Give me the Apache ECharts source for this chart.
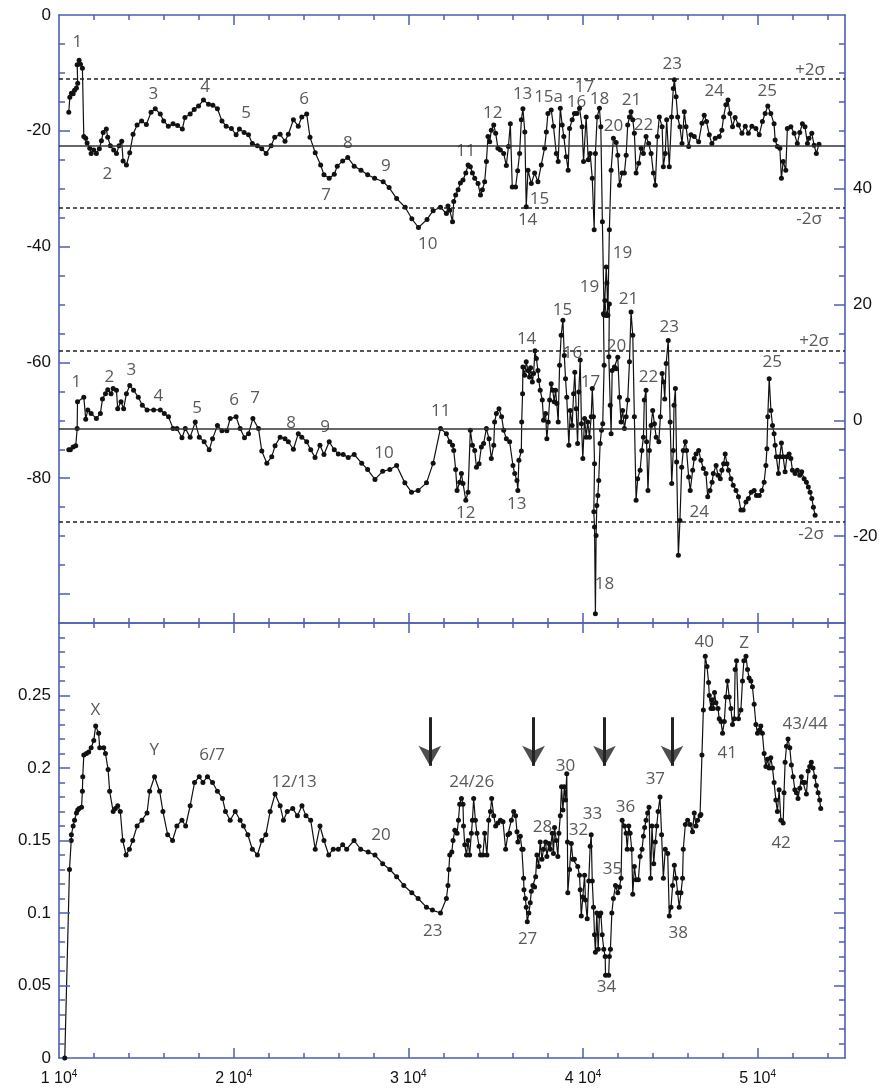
<!DOCTYPE html>
<html>
<head>
<meta charset="utf-8">
<script src="https://cdn.jsdelivr.net/npm/echarts@6.0.0/dist/echarts.min.js"></script>
<style>
  html, body { margin: 0; padding: 0; background: #fff; }
  #chart { width: 883px; height: 1088px; }
</style>
</head>
<body>
<div id="chart"></div>
<script>
// ---- data ----
// upper record (left axis)
const upperSeries = [
  [10560,-16.8],[10620,-14.2],[10710,-13.5],[10810,-13.6],[10890,-13.0],[11000,-12.6],[11070,-11.8],[11040,-8.6],[11150,-7.8],[11230,-8.5],
  [11340,-9.2],[11420,-21.0],[11530,-21.3],[11610,-22.1],[11760,-23.0],[11840,-23.9],[11990,-23.3],[12140,-23.9],[12310,-23.1],[12430,-21.7],
  [12530,-20.3],[12710,-19.7],[12790,-21.1],[12940,-22.6],[13130,-23.3],[13290,-23.9],[13440,-22.6],[13590,-21.8],[13670,-25.2],[13860,-25.9],
  [14050,-23.8],[14240,-20.6],[14470,-19.0],[14730,-18.3],[15000,-18.9],[15270,-16.8],[15510,-16.2],[15800,-17.1],[15990,-18.3],[16260,-19.2],
  [16530,-18.8],[16790,-19.1],[17060,-19.7],[17210,-17.7],[17510,-17.1],[17740,-16.3],[17990,-15.7],[18270,-14.7],[18560,-15.4],[18810,-15.6],
  [19070,-16.2],[19330,-18.3],[19570,-19.2],[19870,-19.6],[20140,-20.7],[20330,-19.7],[20600,-20.3],[20850,-20.7],[21070,-22.2],[21360,-22.6],
  [21610,-23.1],[21860,-23.9],[22140,-22.6],[22350,-21.1],[22660,-20.6],[22940,-21.8],[23130,-20.6],[23420,-18.1],[23700,-19.2],[23900,-17.6],
  [24180,-17.1],[24370,-21.1],[24670,-23.8],[24980,-25.9],[25170,-27.6],[25470,-28.2],[25760,-27.5],[25930,-26.1],[26240,-25.2],[26530,-24.6],
  [26900,-26.1],[27290,-26.8],[27670,-27.6],[28070,-28.2],[28560,-28.8],[28900,-29.8],[29330,-31.7],[29820,-33.2],[30200,-35.2],[30580,-36.7],
  [31070,-35.3],[31420,-33.8],[31840,-33.2],[32180,-34.3],[32270,-33.0],[32370,-33.7],[32530,-35.7],[32600,-32.2],[32710,-31.1],[32850,-30.2],
  [32980,-29.0],[33130,-28.5],[33290,-27.3],[33420,-25.9],[33550,-26.2],[33670,-27.3],[33800,-28.2],[33990,-29.1],[34130,-31.1],[34240,-30.2],
  [34370,-28.8],[34470,-25.3],[34560,-21.0],[34660,-21.9],[34750,-19.9],[34890,-19.0],[35000,-20.4],[35130,-23.0],[35270,-23.3],[35460,-23.9],
  [35610,-26.0],[35730,-22.7],[35840,-18.8],[35950,-29.7],[36140,-29.7],[36260,-26.9],[36370,-23.9],[36470,-18.1],[36560,-16.2],[36670,-20.2],
  [36750,-33.1],[36850,-26.8],[37040,-29.1],[37230,-27.3],[37420,-28.8],[37610,-25.9],[37800,-23.0],[37900,-20.2],[37990,-17.0],[38180,-16.4],
  [38310,-19.2],[38470,-23.9],[38580,-25.3],[38700,-16.1],[38810,-19.0],[38900,-21.0],[39040,-24.5],[39150,-26.8],[39230,-19.6],[39380,-18.1],
  [39510,-17.0],[39650,-17.0],[39800,-16.1],[39950,-19.3],[40030,-25.3],[40180,-17.6],[40300,-25.0],[40410,-23.9],[40530,-28.2],[40640,-37.1],
  [40710,-23.9],[40810,-17.6],[40940,-16.1],[41020,-19.3],[41110,-35.7],[41210,-51.8],[41330,-43.5],[41370,-46.3],[41420,-51.8],[41510,-37.1],
  [41610,-26.8],[41740,-21.3],[41900,-22.0],[41990,-24.2],[42090,-29.4],[42240,-27.3],[42370,-27.3],[42470,-24.2],[42560,-19.0],[42660,-17.6],
  [42750,-16.7],[42850,-18.1],[42940,-20.4],[43040,-27.3],[43190,-25.6],[43330,-23.0],[43460,-23.9],[43610,-21.0],[43760,-22.2],[43900,-23.9],
  [44030,-27.3],[44140,-29.4],[44260,-21.0],[44370,-17.6],[44530,-19.3],[44600,-26.2],[44710,-23.9],[44790,-18.1],[44940,-26.2],[45070,-17.6],
  [45170,-12.7],[45230,-11.2],[45330,-14.1],[45420,-17.6],[45550,-19.3],[45670,-22.2],[45800,-16.7],[45900,-19.3],[46050,-22.7],[46180,-20.7],
  [46370,-21.0],[46620,-21.9],[46810,-18.7],[46940,-17.3],[47070,-18.4],[47230,-20.7],[47380,-22.2],[47570,-21.3],[47800,-21.0],[47950,-19.9],
  [48050,-17.6],[48180,-15.5],[48300,-14.7],[48410,-17.0],[48560,-19.3],[48710,-17.7],[48900,-19.0],[49100,-20.4],[49290,-19.2],[49470,-20.4],
  [49670,-19.2],[49900,-19.6],[50090,-20.7],[50270,-18.4],[50430,-17.0],[50580,-15.7],[50750,-17.0],[50940,-18.8],[51000,-21.6],[51130,-22.7],
  [51270,-23.0],[51360,-28.2],[51460,-25.3],[51610,-26.8],[51700,-19.6],[51900,-19.3],[52090,-20.4],[52270,-22.2],[52410,-20.3],[52560,-18.8],
  [52710,-19.3],[52850,-22.2],[52940,-21.3],[53100,-20.4],[53230,-22.5],[53360,-23.9],[53510,-22.3]
];
// middle record (right axis)
const middleSeries = [
  [10560,-5.1],[10650,-5.1],[10810,-4.6],[10960,-4.4],[11040,-1.4],[11060,3.2],[11420,4.0],[11530,0.2],[11650,1.8],[11840,1.2],
  [12140,0.3],[12370,1.2],[12490,3.7],[12660,4.6],[12790,5.3],[12980,4.6],[13100,5.5],[13290,5.2],[13360,2.0],[13550,3.2],
  [13700,2.0],[13860,4.6],[14050,6.0],[14270,5.2],[14540,4.0],[14770,2.6],[15040,1.8],[15420,1.8],[15800,1.8],[16030,1.2],
  [16270,0.6],[16530,-1.4],[16750,-1.4],[17040,-3.0],[17230,-1.4],[17510,-2.9],[17800,-0.3],[18030,-2.9],[18310,-3.7],[18600,-5.1],
  [18790,-3.2],[19070,-0.9],[19330,-1.8],[19610,-1.8],[19800,0.3],[20140,0.6],[20370,-1.4],[20620,-3.0],[20850,-2.3],[21100,0.3],
  [21420,-1.4],[21610,-5.3],[21900,-7.4],[22180,-6.3],[22370,-4.4],[22660,-2.9],[22940,-3.2],[23130,-3.7],[23420,-5.0],[23700,-2.3],
  [23900,-2.9],[24180,-3.7],[24410,-5.1],[24660,-6.4],[24940,-4.3],[25170,-5.9],[25470,-3.7],[25760,-5.1],[25990,-5.8],[26270,-5.9],
  [26560,-6.4],[26900,-5.9],[27330,-7.4],[27670,-8.5],[28090,-10.2],[28530,-8.8],[28940,-8.5],[29330,-7.8],[29800,-10.8],[30180,-12.4],
  [30560,-12.1],[31040,-10.8],[31420,-7.4],[31840,-1.4],[32180,-2.3],[32370,-3.7],[32530,-4.3],[32600,-5.2],[32710,-8.5],[32790,-12.1],
  [32940,-10.7],[33040,-9.2],[33130,-10.9],[33290,-13.8],[33420,-12.4],[33550,-1.7],[33670,-4.3],[33800,-5.2],[33900,-8.1],[34050,-7.5],
  [34180,-4.6],[34310,-4.0],[34470,-1.4],[34620,-3.2],[34750,-6.6],[34890,-4.3],[34940,-0.3],[35040,1.2],[35190,2.0],[35340,0.6],
  [35460,-1.7],[35610,-3.2],[35800,-3.7],[35990,-7.8],[36090,-9.2],[36220,-10.4],[36270,-12.1],[36330,-6.9],[36470,-5.3],[36490,-0.3],
  [36540,4.6],[36560,9.2],[36660,7.8],[36750,10.1],[36850,8.6],[36940,7.5],[37000,9.1],[37100,6.6],[37170,8.1],[37250,12.0],
  [37330,10.7],[37420,8.6],[37470,6.9],[37550,5.2],[37670,3.5],[37740,0.0],[37860,1.2],[37930,-3.2],[38010,-0.3],[38090,3.5],
  [38180,6.3],[38270,5.2],[38350,3.2],[38430,5.2],[38500,2.9],[38580,-0.3],[38660,9.5],[38750,14.7],[38850,17.3],[38930,11.2],
  [39000,7.2],[39070,4.0],[39190,-4.3],[39270,1.7],[39380,-0.9],[39460,4.6],[39530,8.3],[39610,2.0],[39690,-4.0],[39760,4.9],
  [39840,10.4],[39910,-0.6],[39990,-6.6],[40090,0.3],[40180,-2.9],[40270,-0.3],[40370,-2.9],[40470,0.6],[40530,5.5],[40600,0.6],
  [40660,-7.5],[40620,-15.8],[40660,-18.4],[40710,-33.4],[40750,-19.9],[40790,-14.7],[40850,-13.0],[40900,-10.4],[40980,-4.0],[41060,-1.7],
  [41130,-0.6],[41210,9.5],[41170,18.4],[41250,20.7],[41330,18.1],[41420,18.1],[41510,20.1],[41480,11.0],[41560,2.6],[41610,-2.3],
  [41670,8.6],[41800,9.2],[41900,8.9],[41990,10.9],[42090,4.0],[42180,-0.3],[42270,1.7],[42370,-1.4],[42470,0.6],[42560,3.5],
  [42660,10.1],[42750,18.7],[42850,14.7],[42940,0.6],[43040,-13.8],[43130,-10.1],[43270,-8.6],[43370,-5.2],[43460,-2.9],[43510,3.5],
  [43610,5.2],[43640,-3.7],[43720,-12.1],[43800,-5.2],[43900,-0.9],[43990,1.7],[44090,-0.6],[44190,-2.9],[44340,-3.7],[44430,0.6],
  [44530,8.1],[44620,6.6],[44680,3.7],[44760,9.8],[44880,13.8],[44990,-0.3],[45080,-10.9],[45170,-5.2],[45210,2.6],[45290,5.5],
  [45360,-7.2],[45460,-23.3],[45550,-17.3],[45650,-8.1],[45740,-5.2],[45860,-3.7],[45930,-5.2],[46050,-9.8],[46140,-12.1],[46280,-8.6],
  [46370,-6.6],[46470,-5.8],[46620,-5.2],[46750,-6.9],[46890,-8.3],[47040,-9.2],[47140,-13.2],[47270,-12.1],[47390,-10.7],[47460,-9.2],
  [47620,-7.8],[47730,-9.5],[47860,-10.1],[47950,-8.6],[48050,-7.5],[48140,-5.8],[48240,-7.5],[48330,-8.6],[48470,-10.1],[48600,-11.2],
  [48760,-12.1],[48900,-13.2],[49040,-15.5],[49170,-15.5],[49330,-14.1],[49470,-13.5],[49630,-12.4],[49800,-12.1],[49930,-13.0],[50090,-13.0],
  [50240,-12.1],[50370,-10.7],[50470,-7.8],[50530,-4.9],[50580,0.6],[50660,7.2],[50760,1.7],[50850,-0.9],[50940,-2.3],[51000,-4.3],
  [51070,-6.3],[51190,-9.2],[51270,-6.3],[51360,-3.9],[51460,-6.3],[51570,-8.9],[51670,-6.3],[51800,-5.8],[51900,-6.6],[51990,-8.6],
  [52140,-9.2],[52270,-8.6],[52410,-9.5],[52520,-8.9],[52660,-10.1],[52790,-10.7],[52900,-11.5],[53000,-12.4],[53100,-13.5],[53190,-15.0],
  [53290,-16.4]
];
// lower panel record
const lowerSeries = [
  [10330,0],[10600,0.130],[10700,0.150],[10710,0.154],[10810,0.160],[10890,0.164],[11000,0.169],[11070,0.171],[11150,0.172],[11290,0.173],
  [11340,0.184],[11360,0.194],[11420,0.209],[11570,0.210],[11700,0.211],[11840,0.214],[11990,0.219],[12100,0.229],[12270,0.224],[12330,0.214],
  [12560,0.214],[12660,0.210],[12810,0.199],[12900,0.184],[13100,0.170],[13230,0.172],[13360,0.174],[13510,0.170],[13650,0.150],[13840,0.140],
  [14030,0.144],[14220,0.150],[14470,0.160],[14750,0.164],[15040,0.169],[15190,0.184],[15470,0.194],[15760,0.184],[15950,0.170],[16220,0.154],
  [16500,0.150],[16750,0.160],[17040,0.164],[17250,0.160],[17510,0.174],[17760,0.190],[18030,0.194],[18240,0.190],[18500,0.194],[18790,0.190],
  [19070,0.184],[19360,0.179],[19530,0.170],[19800,0.164],[20090,0.170],[20370,0.164],[20560,0.160],[20810,0.154],[21070,0.144],[21360,0.140],
  [21610,0.150],[21840,0.154],[22090,0.170],[22370,0.182],[22660,0.174],[22850,0.164],[23070,0.170],[23380,0.172],[23650,0.167],[23910,0.174],
  [24140,0.167],[24410,0.164],[24670,0.144],[24940,0.160],[25170,0.150],[25440,0.140],[25700,0.144],[25990,0.144],[26240,0.147],[26470,0.144],
  [26890,0.150],[27270,0.144],[27700,0.142],[28090,0.140],[28530,0.134],[28940,0.130],[29330,0.125],[29740,0.119],[30200,0.114],[30560,0.110],
  [31040,0.104],[31380,0.102],[31840,0.100],[32180,0.110],[32270,0.119],[32320,0.130],[32370,0.140],[32490,0.142],[32560,0.150],[32660,0.157],
  [32790,0.155],[32870,0.164],[32940,0.175],[33040,0.179],[33130,0.175],[33160,0.160],[33230,0.147],[33330,0.140],[33420,0.150],[33510,0.140],
  [33610,0.155],[33670,0.164],[33740,0.179],[33840,0.164],[33930,0.155],[34050,0.146],[34130,0.140],[34270,0.140],[34370,0.155],[34500,0.140],
  [34600,0.164],[34700,0.170],[34770,0.179],[34890,0.167],[35000,0.160],[35130,0.162],[35270,0.164],[35420,0.163],[35570,0.144],[35700,0.154],
  [35800,0.155],[35900,0.164],[36030,0.170],[36140,0.167],[36220,0.156],[36270,0.149],[36410,0.153],[36500,0.144],[36570,0.144],[36600,0.124],
  [36620,0.116],[36700,0.110],[36750,0.104],[36810,0.094],[36900,0.100],[36980,0.107],[37040,0.115],[37130,0.119],[37230,0.118],[37290,0.125],
  [37360,0.140],[37460,0.132],[37550,0.149],[37650,0.137],[37740,0.144],[37860,0.149],[37930,0.139],[38050,0.148],[38130,0.144],[38240,0.155],
  [38310,0.141],[38370,0.159],[38470,0.150],[38560,0.139],[38620,0.155],[38700,0.167],[38770,0.187],[38850,0.171],[38930,0.187],[39000,0.178],
  [39070,0.196],[39110,0.149],[39130,0.114],[39230,0.130],[39330,0.148],[39420,0.137],[39510,0.137],[39700,0.132],[39800,0.126],[39840,0.116],
  [39900,0.098],[39990,0.111],[40090,0.126],[40140,0.109],[40240,0.096],[40330,0.122],[40410,0.146],[40470,0.154],[40530,0.122],[40600,0.104],
  [40660,0.085],[40710,0.073],[40790,0.100],[40870,0.075],[40940,0.098],[41020,0.100],[41100,0.085],[41190,0.075],[41270,0.070],[41290,0.057],
  [41470,0.057],[41510,0.070],[41570,0.075],[41650,0.100],[41740,0.110],[41860,0.119],[41990,0.114],[42090,0.118],[42180,0.124],[42240,0.164],
  [42370,0.160],[42470,0.155],[42530,0.144],[42620,0.160],[42700,0.155],[42790,0.144],[42850,0.113],[42940,0.132],[43040,0.123],[43170,0.123],
  [43270,0.139],[43380,0.144],[43460,0.153],[43530,0.159],[43610,0.164],[43700,0.169],[43780,0.173],[43870,0.124],[43950,0.160],[44050,0.134],
  [44140,0.149],[44220,0.160],[44300,0.170],[44410,0.180],[44500,0.154],[44600,0.124],[44710,0.144],[44850,0.141],[44940,0.098],[45040,0.104],
  [45130,0.119],[45230,0.133],[45330,0.124],[45420,0.114],[45510,0.104],[45610,0.114],[45700,0.124],[45740,0.144],[45860,0.161],[45990,0.164],
  [46130,0.161],[46270,0.156],[46370,0.169],[46470,0.160],[46560,0.164],[46700,0.167],[46750,0.168],[46810,0.209],[46890,0.240],[47000,0.277],
  [47100,0.270],[47190,0.259],[47230,0.250],[47330,0.241],[47380,0.247],[47460,0.241],[47530,0.252],[47610,0.245],[47730,0.241],[47800,0.234],
  [47900,0.232],[47990,0.224],[48090,0.232],[48180,0.249],[48270,0.260],[48370,0.249],[48470,0.241],[48560,0.230],[48660,0.234],[48710,0.268],
  [48790,0.274],[48900,0.234],[49040,0.240],[49130,0.260],[49210,0.274],[49330,0.277],[49420,0.268],[49510,0.262],[49610,0.260],[49700,0.256],
  [49800,0.244],[49900,0.230],[49990,0.224],[50090,0.226],[50180,0.229],[50270,0.224],[50370,0.210],[50470,0.201],[50560,0.206],[50660,0.200],
  [50750,0.207],[50850,0.200],[50940,0.190],[51040,0.178],[51130,0.170],[51230,0.185],[51330,0.164],[51460,0.162],[51510,0.183],[51570,0.204],
  [51650,0.215],[51740,0.220],[51840,0.214],[51930,0.202],[52030,0.194],[52130,0.185],[52220,0.183],[52310,0.179],[52410,0.186],[52500,0.194],
  [52600,0.190],[52700,0.190],[52790,0.182],[52890,0.198],[52980,0.201],[53070,0.204],[53170,0.200],[53270,0.194],[53360,0.188],[53460,0.183],
  [53550,0.178],[53610,0.172]
];

// mean, +2 sigma, -2 sigma
const upperStats = [-22.6, -11.05, -33.3];
const middleStats = [-1.4, 12.1, -17.6];

// arrows in lower panel: x, top of shaft, centre of head
const arrowX = [31230, 37170, 41230, 45100];
const arrowTop = 0.235;
const arrowHead = 0.2015;

// annotations (upper panel on left-axis units)
const upperLabels = [
  [11057,-4.7,'1'],[12771,-27.5,'2'],[15400,-13.6,'3'],[18371,-12.4,'4'],[20714,-16.9,'5'],[24029,-14.5,'6'],
  [25286,-31.1,'7'],[26543,-22.1,'8'],[28714,-26.1,'9'],[31114,-39.6,'10'],[33286,-23.5,'11'],[34829,-16.9,'12'],
  [36543,-13.6,'13'],[38029,-14.2,'15a'],[39629,-15.0,'16'],[40086,-12.4,'17'],[40943,-14.5,'18'],[41743,-19.2,'20'],
  [42771,-14.7,'21'],[43457,-19.0,'22'],[45114,-8.5,'23'],[47514,-13.1,'24'],[50543,-13.1,'25'],[37514,-31.8,'15'],
  [36829,-35.4,'14'],[42257,-41.1,'19'],[53000,-9.5,'+2σ'],[52943,-35.2,'-2σ'],
  [40371,-47.0,'19'],[42600,-49.1,'21'],[11000,-63.4,'1'],[12886,-62.5,'2'],[14143,-61.3,'3'],[15686,-65.8,'4'],
  [17914,-67.9,'5'],[20029,-66.5,'6'],[21229,-66.1,'7'],[23286,-70.5,'8'],[25229,-71.2,'9'],[28600,-75.6,'10'],
  [31857,-68.4,'11'],[33286,-86.0,'12'],[36200,-84.5,'13'],[36771,-56.0,'14'],[38829,-50.9,'15'],[39400,-58.4,'16'],
  [40429,-63.4,'17'],[41229,-98.3,'18'],[41914,-57.2,'20'],[43743,-62.5,'22'],[44943,-53.9,'23'],[46657,-85.8,'24'],
  [50829,-59.9,'25'],[53229,-56.3,'+2σ'],[53057,-89.6,'-2σ']
];
const lowerLabels = [
  [12086,0.240,'X'],[15457,0.2125,'Y'],[18771,0.209,'6/7'],[23457,0.190,'12/13'],[28429,0.154,'20'],[31400,0.0876,'23'],
  [33629,0.190,'24/26'],[37686,0.159,'28'],[38999,0.2015,'30'],[39743,0.157,'32'],[40543,0.168,'33'],[41686,0.130,'35'],
  [42429,0.173,'36'],[44143,0.192,'37'],[46943,0.287,'40'],[49229,0.286,'Z'],[48257,0.210,'41'],[52714,0.230,'43/44'],
  [51343,0.148,'42'],[36829,0.082,'27'],[41343,0.049,'34'],[45457,0.086,'38']
];

// axis extents and tick values
const xRange = [10000, 55000];
const xMajor = [20000, 30000, 40000, 50000];
const xLabelValues = [10000, 20000, 30000, 40000, 50000];
const upperLeftRange = [-105, 0];
const upperLeftLabels = [0, -20, -40, -60, -80];
const upperLeftMajor = [0, -20, -40, -60, -80, -100];
const upperRightRange = [-35, 70];
const upperRightLabels = [40, 20, 0, -20];
const lowerRange = [0, 0.3];
const lowerLabelValues = [0, 0.05, 0.1, 0.15, 0.2, 0.25];
const lowerMajor = [0.05, 0.1, 0.15, 0.2, 0.25];

// ---- chart ----
const AXIS_BLUE = '#4d5db1';
const TICK_FONT = 'Liberation Sans, Arial, sans-serif';
const NOTE_FONT = 'Open Sans, Lato, sans-serif';

const GRID_W = 786, TOP_H = 608, LOW_H = 435;
const X_PER_PX = (xRange[1] - xRange[0]) / GRID_W;
const TOP_Y_PER_PX = (upperLeftRange[1] - upperLeftRange[0]) / TOP_H;
const LOW_Y_PER_PX = (lowerRange[1] - lowerRange[0]) / LOW_H;

const chart = echarts.init(document.getElementById('chart'), null, { renderer: 'canvas' });

function xAxes(gridIndex, position, labels) {
  const base = { type: 'value', gridIndex, position, min: xRange[0], max: xRange[1], splitLine: { show: false } };
  return [
    {
      ...base, interval: 2000,
      axisLine: { show: true, onZero: false, lineStyle: { color: AXIS_BLUE, width: 1.6 } },
      axisTick: { show: false },
      axisLabel: labels ? {
        show: true, customValues: xLabelValues, margin: 11, color: '#111', fontSize: 16, fontFamily: TICK_FONT,
        formatter: (v) => `${v / 10000} 10{sup|4}`,
        rich: { sup: { fontSize: 10, fontFamily: TICK_FONT, color: '#111', padding: [0, 0, 9, 0] } }
      } : { show: false }
    }
  ];
}

function yAxes(gridIndex, position, range, step, labelValues) {
  return [{
    type: 'value', gridIndex, position, min: range[0], max: range[1], interval: step, splitLine: { show: false },
    axisLine: { show: true, onZero: false, lineStyle: { color: AXIS_BLUE, width: 1.6 } },
    axisTick: { show: false },
    axisLabel: labelValues ? {
      show: true, customValues: labelValues, margin: 8, color: '#111', fontSize: 17, fontFamily: TICK_FONT,
      formatter: (v) => String(+v.toFixed(2))
    } : { show: false }
  }];
}

// inward tick marks round a panel frame, drawn as short segments in data units
function seg(x0, y0, x1, y1) {
  return [{ coord: [x0, y0] }, { coord: [x1, y1] }];
}
function frameTicks(yMin, yMax, yPerPx, yMinor, leftMajor, rightMajor) {
  const out = [];
  for (let x = xRange[0] + 2000; x < xRange[1]; x += 2000) {
    const len = (xMajor.includes(x) ? 10 : 5) * yPerPx;
    out.push(seg(x, yMax, x, yMax - len), seg(x, yMin, x, yMin + len));
  }
  yMinor.forEach((y) => {
    const lenL = (leftMajor.includes(y) ? 11 : 6) * X_PER_PX;
    const lenR = (rightMajor.includes(y) ? 11 : 6) * X_PER_PX;
    out.push(seg(xRange[0], y, xRange[0] + lenL, y), seg(xRange[1], y, xRange[1] - lenR, y));
  });
  return out;
}
const topMinor = [];
for (let v = upperLeftRange[0] + 5; v < upperLeftRange[1]; v += 5) topMinor.push(v);
const lowMinor = [];
for (let i = 1; i < 30; i++) lowMinor.push(i / 100);
const rightShift = upperRightRange[1] - upperLeftRange[1]; // right axis value minus left axis value
const topTicks = frameTicks(upperLeftRange[0], upperLeftRange[1], TOP_Y_PER_PX, topMinor,
  upperLeftMajor, upperRightLabels.map((r) => r - rightShift));
const lowTicks = frameTicks(lowerRange[0], lowerRange[1], LOW_Y_PER_PX, lowMinor, lowerMajor, lowerMajor);

function sigmaLines(stats) {
  return {
    silent: true, symbol: 'none', label: { show: false }, animation: false,
    emphasis: { disabled: true },
    data: [
      { yAxis: stats[0], lineStyle: { type: 'solid', color: '#333', width: 1.6 } },
      { yAxis: stats[1], lineStyle: { type: [4, 3], color: '#222', width: 1.6 } },
      { yAxis: stats[2], lineStyle: { type: [4, 3], color: '#222', width: 1.6 } }
    ]
  };
}

const lineBase = {
  type: 'line', symbol: 'circle', symbolSize: 5, showSymbol: true,
  lineStyle: { color: '#111', width: 1.2 }, itemStyle: { color: '#111' },
  emphasis: { disabled: true }, silent: true, z: 3
};

function noteSeries(xi, yi, items, ticks) {
  return {
    type: 'scatter', xAxisIndex: xi, yAxisIndex: yi, symbolSize: 1, silent: true,
    itemStyle: { color: 'rgba(0,0,0,0)' }, z: 5,
    label: { show: true, position: 'inside', formatter: '{b}', color: '#2e2e2e', fontSize: 17, fontFamily: NOTE_FONT },
    data: items.map(([x, y, t]) => ({ value: [x, y], name: t })),
    markLine: {
      silent: true, animation: false, symbol: 'none',
      label: { show: false }, emphasis: { disabled: true },
      lineStyle: { type: 'solid', color: AXIS_BLUE, width: 1.5 },
      data: ticks
    }
  };
}

const option = {
  animation: false,
  backgroundColor: '#fff',
  grid: [
    { left: 59, top: 15, width: GRID_W, height: TOP_H },
    { left: 59, top: 623, width: GRID_W, height: LOW_H }
  ],
  xAxis: [
    ...xAxes(0, 'bottom', false),
    ...xAxes(0, 'top', false),
    ...xAxes(1, 'bottom', true),
    ...xAxes(1, 'top', false)
  ],
  yAxis: [
    ...yAxes(0, 'left', upperLeftRange, 5, upperLeftLabels),
    ...yAxes(0, 'right', upperRightRange, 5, upperRightLabels),
    ...yAxes(1, 'left', lowerRange, 0.01, lowerLabelValues),
    ...yAxes(1, 'right', lowerRange, 0.01, null)
  ],
  series: [
    { ...lineBase, xAxisIndex: 0, yAxisIndex: 0, data: upperSeries, markLine: sigmaLines(upperStats) },
    { ...lineBase, xAxisIndex: 0, yAxisIndex: 1, data: middleSeries, markLine: sigmaLines(middleStats) },
    { ...lineBase, xAxisIndex: 2, yAxisIndex: 2, data: lowerSeries },
    {
      // arrow heads with their shafts
      type: 'scatter', xAxisIndex: 2, yAxisIndex: 2, silent: true, z: 4,
      symbol: 'arrow', symbolRotate: 180, symbolSize: [17, 20],
      itemStyle: { color: '#222' },
      data: arrowX.map((x) => [x, arrowHead]),
      markLine: {
        silent: true, animation: false, symbol: 'none',
        label: { show: false }, emphasis: { disabled: true },
        lineStyle: { type: 'solid', color: '#222', width: 3 },
        data: arrowX.map((x) => [{ coord: [x, arrowTop] }, { coord: [x, arrowHead] }])
      }
    },
    noteSeries(0, 0, upperLabels, topTicks),
    noteSeries(2, 2, lowerLabels, lowTicks)
  ]
};

chart.setOption(option);
</script>
</body>
</html>
